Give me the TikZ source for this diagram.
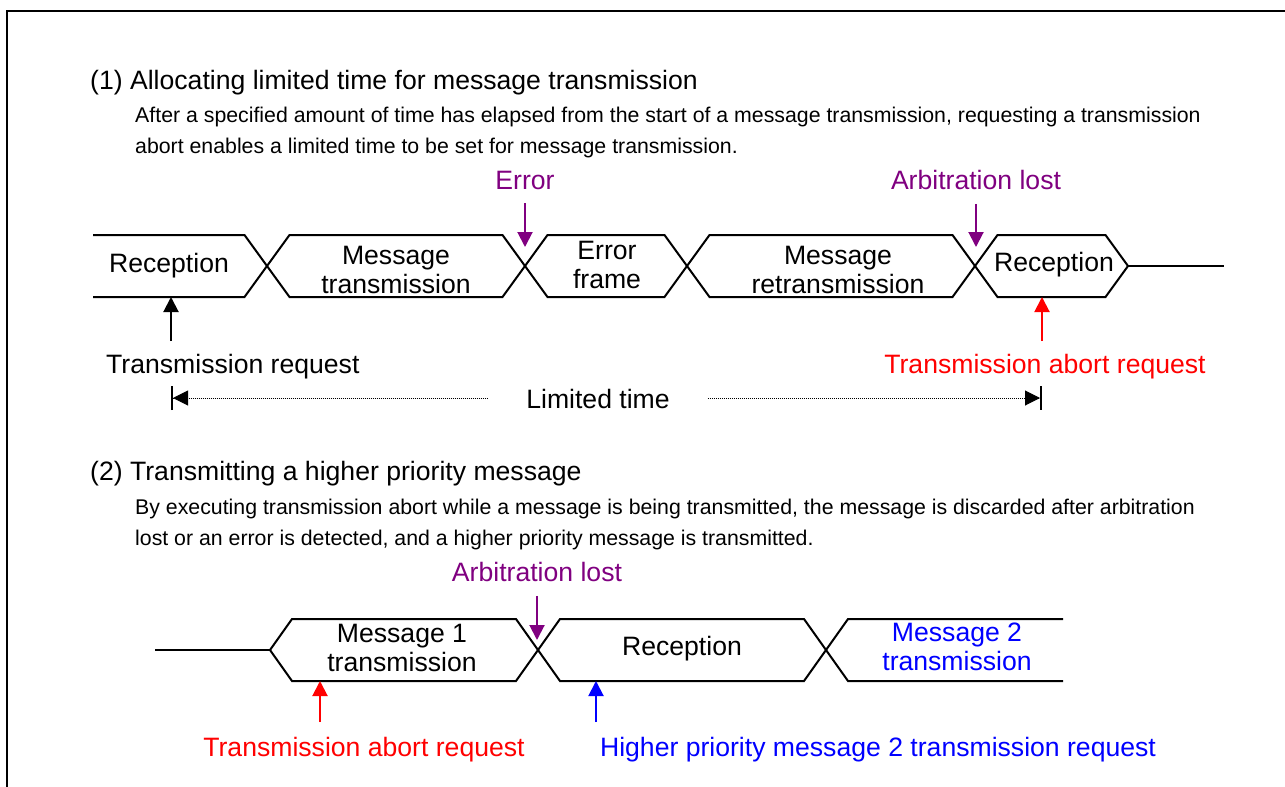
\documentclass[tikz,border=0pt]{standalone}
\usepackage{fontspec}
\setmainfont{Liberation Sans}
\usetikzlibrary{
  arrows.meta,
}
\definecolor{evpurple}{RGB}{128,0,128}
\tikzstyle{bus} = [
draw,
line width=2pt,
line join=miter
]
\tikzstyle{field} = [
align=center,
inner sep=0pt,
font=\fontsize{26.6}{29}\selectfont
]
\tikzstyle{note} = [
inner sep=0pt,
font=\fontsize{26.6}{29}\selectfont
]
\tikzstyle{heading} = [
anchor=base west,
inner sep=0pt,
font=\fontsize{26.6}{29}\selectfont
]
\tikzstyle{desc} = [
anchor=base west,
inner sep=0pt,
font=\fontsize{21.3}{24}\selectfont
]
\tikzstyle{arrow} = [draw, line width=2pt, -{Triangle[width=15pt,length=15pt]}]
\tikzstyle{span} = [draw, line width=1pt, densely dotted]

\begin{document}
\begin{tikzpicture}[x=1pt, y=-1pt]
  \useasboundingbox (0,0) rectangle (1285,787);
  \draw[line width=2pt] (7,787) -- (7,11) -- (1285,11);

  % Section 1 text
  \node [heading] (h1) at (90,89) {(1) Allocating limited time for message transmission};
  \node [desc] (d1a) at (135,122) {After a specified amount of time has elapsed from the start of a message transmission, requesting a transmission};
  \node [desc] (d1b) at (135,153) {abort enables a limited time to be set for message transmission.};

  % Bus 1
  \draw [bus] (93,235) -- (244.5,235) -- (267,266) -- (244.5,297) -- (93,297);
  \foreach \a/\b in {267/525, 525/687, 687/975, 975/1128}
    \draw [bus] (\a,266) -- (\a+22.5,235) -- (\b-22.5,235) -- (\b,266)
      -- (\b-22.5,297) -- (\a+22.5,297) -- cycle;
  \draw [bus] (1128,266) -- (1224,266);

  \node [field] (rx1) at (169,266) {Reception};
  \node [field] (tx1) at (396,270) {Message\\transmission};
  \node [field] (errf) at (607,265) {Error\\frame};
  \node [field] (retx) at (838,270) {Message\\retransmission};
  \node [field] (rx2) at (1054,265) {Reception};

  % Events 1
  \node [note, text=evpurple] (errtxt) at (525,180) {Error};
  \node [note, text=evpurple] (arb1txt) at (976,180) {Arbitration lost};
  \coordinate (errpt) at (525,247);
  \coordinate (arb1pt) at (976,247);

  \node [note, anchor=west] (treqtxt) at (106,367) {Transmission request};
  \node [note, text=red] (abort1txt) at (1045,367) {Transmission abort request};
  \coordinate (treqpt) at (171,297);
  \coordinate (treqtail) at (171,341);
  \coordinate (abort1pt) at (1042,297);
  \coordinate (abort1tail) at (1042,341);

  % Limited time
  \coordinate (limL) at (171,398);
  \coordinate (limR) at (1042,398);
  \node [note, inner xsep=38pt] (limtxt) at (598,399) {Limited time};

  % Draw edges 1
  \path [arrow, evpurple, shorten <=14pt] (errtxt) -- (errpt);
  \path [arrow, evpurple, shorten <=14pt] (arb1txt) -- (arb1pt);
  \path [arrow] (treqtail) -- (treqpt);
  \path [arrow, red] (abort1tail) -- (abort1pt);
  \path [span, {Bar[width=24pt,line width=2pt,sep=0pt]Triangle[width=15pt,length=15pt]}-] (limL) -- (limtxt.west |- limL);
  \path [span, -{Triangle[width=15pt,length=15pt,sep=0pt]Bar[width=24pt,line width=2pt]}] (limtxt.east |- limR) -- (limR);

  % Section 2 text
  \node [heading] (h2) at (90,480) {(2) Transmitting a higher priority message};
  \node [desc] (d2a) at (135,514) {By executing transmission abort while a message is being transmitted, the message is discarded after arbitration};
  \node [desc] (d2b) at (135,545) {lost or an error is detected, and a higher priority message is transmitted.};

  % Bus 2
  \draw [bus] (155,650) -- (270,650);
  \foreach \a/\b in {270/538, 538/826}
    \draw [bus] (\a,650) -- (\a+22,619) -- (\b-22,619) -- (\b,650)
      -- (\b-22,681) -- (\a+22,681) -- cycle;
  \draw [bus] (1063,619) -- (848,619) -- (826,650) -- (848,681) -- (1063,681);

  \node [field] (m1) at (402,648) {Message 1\\transmission};
  \node [field] (rx3) at (682,649) {Reception};
  \node [field, text=blue] (m2) at (957,647) {Message 2\\transmission};

  % Events 2
  \node [note, text=evpurple] (arb2txt) at (537,572) {Arbitration lost};
  \coordinate (arb2pt) at (537,640);
  \node [note, text=red] (abort2txt) at (364,750) {Transmission abort request};
  \node [note, text=blue] (hireqtxt) at (878,750) {Higher priority message 2 transmission request};
  \coordinate (abort2pt) at (320,681);
  \coordinate (abort2tail) at (320,722);
  \coordinate (hireqpt) at (596,681);
  \coordinate (hireqtail) at (596,722);

  % Draw edges 2
  \path [arrow, evpurple, shorten <=14pt] (arb2txt) -- (arb2pt);
  \path [arrow, red] (abort2tail) -- (abort2pt);
  \path [arrow, blue] (hireqtail) -- (hireqpt);
\end{tikzpicture}
\end{document}
